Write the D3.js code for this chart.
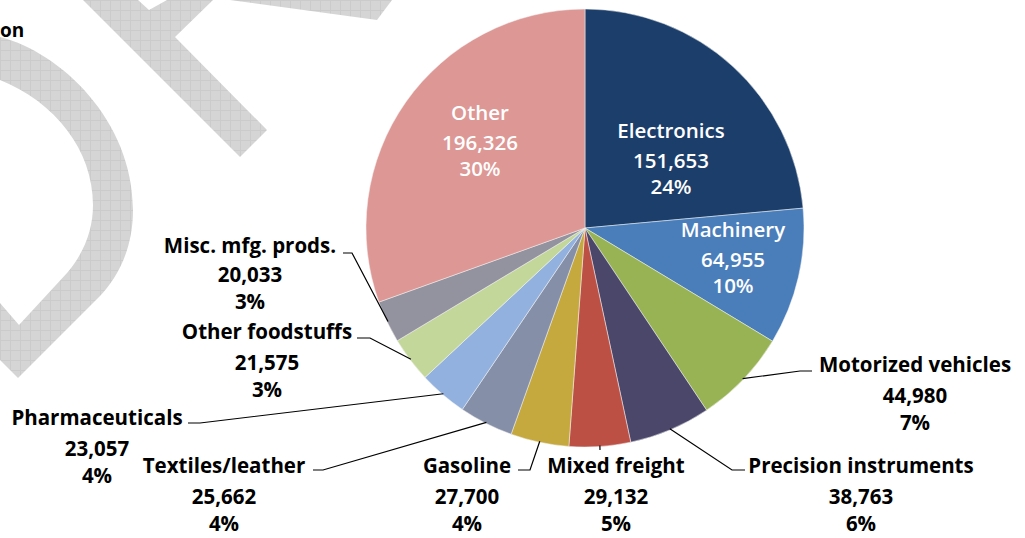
<!DOCTYPE html>
<html><head><meta charset="utf-8">
<script src="https://cdn.jsdelivr.net/npm/d3@7"></script>
<style>body{margin:0;background:#fff}svg{display:block}</style>
</head><body>
<svg id="c" width="1025" height="538"></svg>
<script>
// ---- data ----
const categories = ["Electronics","Machinery","Motorized vehicles","Precision instruments","Mixed freight","Gasoline","Textiles/leather","Pharmaceuticals","Other foodstuffs","Misc. mfg. prods.","Other"];
const values = [151653,64955,44980,38763,29132,27700,25662,23057,21575,20033,196326];
const titleText = "on";

// ---- styles / layout ----
const colors = ["#1c3e6b","#4a7ebb","#98b354","#4a476b","#bc5045","#c5a93f","#8590a8","#93b1df","#c4d79b","#93929f","#dd9794"];
const labelLayout = [
  {x:671,y:138,inside:true},
  {x:733,y:237,inside:true},
  {x:915,y:372,elbow:[800,371],end:812},
  {x:861,y:473,elbow:[732,470],end:745},
  {x:616,y:473,elbow:[600,450],end:600},
  {x:467,y:473,elbow:[530,470],end:518},
  {x:224,y:473,elbow:[323,470],end:313},
  {x:97,y:425,elbow:[200,423],end:188},
  {x:267,y:339,elbow:[370,338],end:357},
  {x:250,y:253,elbow:[352,253],end:343,offs:[0,29,56]},
  {x:480,y:120,inside:true}
];
const cx = 585, cy = 228, R = 219;
const FONT = "'Open Sans', Lato, sans-serif";
const FS = 20.5;

const svg = d3.select("#c");
const defs = svg.append("defs");
const pat = defs.append("pattern").attr("id","hatch").attr("patternUnits","userSpaceOnUse")
  .attr("width",10).attr("height",10);
pat.append("rect").attr("width",10).attr("height",10).attr("fill","#d5d5d5");
pat.append("path").attr("d","M0,0.5H10M0.5,0V10").attr("stroke","#cbcbcb").attr("stroke-width",1);

// watermark fragments
const wm = svg.append("g").attr("fill","url(#hatch)");
wm.append("path").attr("d","M0,37 C60,52 133,120 133,210 C133,250 117,278 100,296 L18,378 L0,360 L0,303 L19,325 L67,273 C84,253 93,230 93,205 C93,150 55,102 0,80 Z");
wm.append("path").attr("d","M83,0 L138,0 L149,10 L167,0 L213,0 L175,37 L267,130 L240,157 Z");
wm.append("path").attr("d","M230,0 L392,0 L377,20 Z");

// title fragment
svg.append("text").attr("x",0).attr("y",37).attr("text-anchor","start")
  .attr("font-family",FONT).attr("font-weight","bold").attr("font-size",19).attr("fill","#000").text(titleText);

const total = d3.sum(values);
const data = categories.map((c,i)=>({name:c,value:values[i],color:colors[i],lay:labelLayout[i]}));
const pie = d3.pie().sort(null).value(d=>d.value).startAngle(0).endAngle(2*Math.PI);
const arcs = pie(data);
const arc = d3.arc().innerRadius(0).outerRadius(R);

const g = svg.append("g").attr("transform",`translate(${cx},${cy})`);
g.selectAll("path").data(arcs).join("path")
  .attr("d",arc).attr("fill",d=>d.data.color)
  .attr("stroke","#f4f4f4").attr("stroke-width",0.5);

const fmt = d3.format(",");
const pct = v => Math.round(v/total*100)+"%";

// leader lines
arcs.forEach(a=>{
  const L = a.data.lay;
  if (L.inside) return;
  const mid = (a.startAngle+a.endAngle)/2;
  const px = cx + (R-1)*Math.sin(mid), py = cy - (R-1)*Math.cos(mid);
  const pts = [[px,py],[L.elbow[0],L.elbow[1]],[L.end,L.elbow[1]]];
  svg.append("path").attr("d",d3.line()(pts)).attr("fill","none")
    .attr("stroke","#000").attr("stroke-width",1.2);
});

// labels
arcs.forEach(a=>{
  const L = a.data.lay;
  const t = svg.append("text").attr("text-anchor","middle").attr("font-family",FONT)
    .attr("font-size",FS).attr("fill",L.inside?"#fff":"#000")
    .attr("font-weight",L.inside?"600":"bold");
  const lines = [a.data.name, fmt(a.data.value), pct(a.data.value)];
  const offs = L.offs || (L.inside ? [0,30,56] : [0,31,58]);
  lines.forEach((s,i)=>t.append("tspan").attr("x",L.x).attr("y",L.y+offs[i]).text(s));
});
</script>
</body></html>
